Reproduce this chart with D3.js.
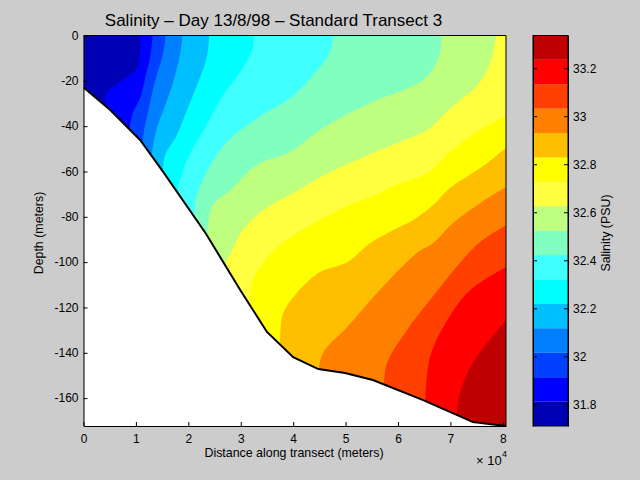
<!DOCTYPE html>
<html>
<head>
<meta charset="utf-8">
<title>Salinity transect</title>
<script src="https://cdn.jsdelivr.net/npm/d3@7"></script>
<style>
  html, body { margin: 0; padding: 0; background: #cccccc; }
  svg { display: block; }
  text { font-family: "Liberation Sans", Arial, sans-serif; fill: #000; }
</style>
</head>
<body>
<div id="chart"></div>
<script>
// Salinity levels between the filled bands (PSU)
const levels = [31.71, 31.812, 31.913, 32.015, 32.117, 32.218, 32.32, 32.422, 32.523,
    32.625, 32.727, 32.829, 32.93, 33.032, 33.133, 33.235, 33.336];
const bandColors = ["#0000b4", "#0000ff", "#0040ff", "#0080ff", "#00bfff", "#00ffff", "#40ffff", "#80ffbf",
    "#bfff80", "#ffff40", "#ffff00", "#ffbf00", "#ff8000", "#ff4000", "#ff0000", "#bf0000"];

// Contour lines: [distance (x 10^4 m), depth (m)]
const contour1 = [[1.09, 0], [1.08, 7.3], [1.02, 14.3], [0.70, 20.5], [0.44, 25.4], [0.41, 31]];
const contour2 = [[1.32, 0], [1.27, 9.9], [1.19, 17.4], [1.08, 27.6], [0.94, 34.2], [0.87, 42]];
const contour3 = [[1.57, 0], [1.51, 8.6], [1.36, 20.5], [1.23, 33.8], [1.15, 42.6], [1.12, 49]];
const contour4 = [[1.89, 0], [1.84, 8.6], [1.71, 20.5], [1.56, 30.7], [1.40, 40.8], [1.32, 49.2], [1.30, 54]];
const contour5 = [[2.40, 0], [2.35, 9.9], [2.19, 20.5], [1.99, 32], [1.78, 43.9], [1.56, 52.7], [1.51, 60]];
const contour6 = [[3.25, 0], [3.23, 5.5], [2.99, 16.1], [2.66, 26.3], [2.35, 39.5], [1.99, 54.1], [1.80, 67]];
const contour7 = [[4.76, 0], [4.70, 7.3], [4.38, 17.4], [3.94, 27.6], [3.31, 36.4], [2.73, 47], [2.35, 60.2],
    [2.16, 70.4], [2.11, 80]];
const contour8 = [[6.84, 0], [6.77, 9.9], [6.48, 19.6], [5.60, 28.5], [4.90, 36.4], [4.51, 41.7], [3.94, 51.4],
    [3.31, 57.1], [2.80, 68.2], [2.47, 74.8], [2.38, 82.3], [2.35, 90]];
const contour9 = [[7.87, 0], [7.79, 9.9], [7.57, 20.5], [7.19, 28.5], [6.96, 32.9], [6.56, 41.7], [6.04, 47],
    [5.52, 51.9], [4.71, 60.2], [4.00, 69.5], [3.43, 77], [3.04, 85.8], [2.83, 94.7], [2.72, 100], [2.70, 106]];
const contour10 = [[8.06, 35.1], [7.51, 42.6], [6.99, 51.4], [6.56, 60.7], [5.85, 66.9], [5.66, 69.5], [4.95, 76.1],
    [4.27, 84.5], [3.75, 92.4], [3.43, 100.4], [3.23, 107.9], [3.18, 114.5], [3.16, 122]];
const contour11 = [[8.06, 49.6], [7.57, 58.5], [6.99, 67.3], [6.67, 74.8], [6.29, 81.4], [5.91, 85.8], [5.47, 91.6],
    [5.03, 100], [4.51, 104.4], [4.07, 113.6], [3.81, 122.5], [3.75, 133], [3.75, 138]];
const contour12 = [[8.06, 66.9], [7.57, 73.9], [7.05, 82.7], [6.67, 91.6], [6.36, 96], [5.60, 113.6], [5.03, 128.6],
    [4.57, 140], [4.48, 149]];
const contour13 = [[8.06, 83.6], [7.62, 90.2], [7.38, 95.1], [6.61, 116.7], [6.17, 130], [5.79, 144.5], [5.73, 155]];
const contour14 = [[8.06, 102.2], [7.38, 112.3], [6.94, 125.6], [6.61, 141.9], [6.52, 162]];
const contour15 = [[8.06, 125.6], [7.70, 135.7], [7.38, 146.3], [7.15, 160.9], [7.13, 170]];
const contours = [contour1, contour2, contour3, contour4, contour5, contour6, contour7, contour8,
    contour9, contour10, contour11, contour12, contour13, contour14, contour15];

// Sea floor along the transect
const bottom = [[0, 22.9], [0.51, 32.9], [1.08, 46.1], [1.52, 60.2], [2.34, 87.6], [2.99, 112.3], [3.50, 130.8],
    [4.00, 141.9], [4.48, 147.2], [4.99, 148.9], [5.52, 152], [6.48, 160.9], [7.43, 170.6], [8.06, 172.3]];

const xTicks = [0, 1, 2, 3, 4, 5, 6, 7, 8];
const depthTicks = [0, 20, 40, 60, 80, 100, 120, 140, 160];
const barTicks = [31.8, 32, 32.2, 32.4, 32.6, 32.8, 33, 33.2];

const width = 640, height = 480;
const plot = { left: 83.5, right: 506, top: 35.5, bottom: 426 };
const bar = { left: 533, right: 568 };
const xMax = 8.06, depthMax = 172.3;

const x = d3.scaleLinear().domain([0, xMax]).range([plot.left, plot.right]);
const y = d3.scaleLinear().domain([0, depthMax]).range([plot.top, plot.bottom]);
const yBar = d3.scaleLinear().domain([levels[0], levels[levels.length - 1]]).range([plot.bottom, plot.top]);

const svg = d3.select("#chart").append("svg")
    .attr("width", width)
    .attr("height", height);

svg.append("defs").append("clipPath").attr("id", "plotClip").append("rect")
    .attr("x", plot.left)
    .attr("y", plot.top)
    .attr("width", plot.right - plot.left)
    .attr("height", plot.bottom - plot.top);

const area = svg.append("g").attr("clip-path", "url(#plotClip)");

const smooth = d3.line().x(d => x(d[0])).y(d => y(d[1])).curve(d3.curveCatmullRom.alpha(0.5));

// Lowest band fills the whole section, each contour paints what lies beyond it
area.append("rect")
    .attr("x", plot.left)
    .attr("y", plot.top)
    .attr("width", plot.right - plot.left)
    .attr("height", plot.bottom - plot.top)
    .attr("fill", bandColors[0]);

area.selectAll(".band")
    .data(contours)
    .join("path")
    .attr("class", "band")
    .attr("fill", (d, i) => bandColors[i + 1])
    .attr("d", d => {
        const last = d[d.length - 1];
        let path = smooth(d);
        path += `L${x(last[0])},${y(depthMax)}`;
        path += `L${x(xMax)},${y(depthMax)}`;
        if (d[0][1] === 0) path += `L${x(xMax)},${y(0)}`;
        return path + "Z";
    });

// White below the sea floor, thick black line on its edge
const floorLine = d3.line().x(d => x(d[0])).y(d => y(d[1]));
area.append("path")
    .attr("fill", "#fff")
    .attr("d", `${floorLine(bottom)}L${x(xMax)},${y(depthMax)}L${x(0)},${y(depthMax)}Z`);
area.append("path")
    .attr("fill", "none")
    .attr("stroke", "#000")
    .attr("stroke-width", 2)
    .attr("d", floorLine(bottom));

// Axes with inward ticks, as the original
function styleAxis(g) {
    g.selectAll("text").attr("font-size", 12);
    g.selectAll("path, line").attr("stroke", "#000");
}

svg.append("g")
    .attr("transform", `translate(0,${plot.bottom})`)
    .call(d3.axisBottom(x).tickValues(xTicks).tickFormat(d3.format("d")).tickSizeInner(-4).tickSizeOuter(0).tickPadding(8))
    .call(styleAxis);

svg.append("g")
    .attr("transform", `translate(${plot.left},0)`)
    .call(d3.axisLeft(y).tickValues(depthTicks).tickFormat(d => d === 0 ? "0" : "-" + d).tickSizeInner(-4).tickSizeOuter(0).tickPadding(5))
    .call(styleAxis);

// Top and right edge of the box
svg.append("path")
    .attr("fill", "none")
    .attr("stroke", "#000")
    .attr("d", `M${plot.left},${plot.top}H${plot.right}V${plot.bottom}`);

// Colour bar
svg.append("g").selectAll("rect")
    .data(bandColors)
    .join("rect")
    .attr("x", bar.left)
    .attr("width", bar.right - bar.left)
    .attr("y", (d, i) => yBar(levels[i + 1]))
    .attr("height", (d, i) => yBar(levels[i]) - yBar(levels[i + 1]))
    .attr("fill", d => d);

svg.append("rect")
    .attr("x", bar.left)
    .attr("y", plot.top)
    .attr("width", bar.right - bar.left)
    .attr("height", plot.bottom - plot.top)
    .attr("fill", "none")
    .attr("stroke", "#000");

svg.append("g")
    .attr("transform", `translate(${bar.right},0)`)
    .call(d3.axisRight(yBar).tickValues(barTicks).tickFormat(d => d3.format("")(d)).tickSizeInner(-4).tickSizeOuter(0).tickPadding(5))
    .call(styleAxis);

svg.append("g")
    .attr("transform", `translate(${bar.left},0)`)
    .call(d3.axisLeft(yBar).tickValues(barTicks).tickFormat("").tickSizeInner(-4).tickSizeOuter(0))
    .call(styleAxis);

// Titles and labels
svg.append("text")
    .attr("x", 273.5)
    .attr("y", 26)
    .attr("text-anchor", "middle")
    .attr("font-size", 17)
    .text("Salinity \u2013 Day 13/8/98 \u2013 Standard Transect 3");

svg.append("text")
    .attr("x", 294)
    .attr("y", 457)
    .attr("text-anchor", "middle")
    .attr("font-size", 12.4)
    .text("Distance along transect (meters)");

svg.append("text")
    .attr("transform", "translate(43,233) rotate(-90)")
    .attr("text-anchor", "middle")
    .attr("font-size", 12.4)
    .text("Depth (meters)");

svg.append("text")
    .attr("transform", "translate(610,233) rotate(-90)")
    .attr("text-anchor", "middle")
    .attr("font-size", 12.4)
    .text("Salinity (PSU)");

svg.append("text")
    .attr("x", 476)
    .attr("y", 465)
    .attr("font-size", 13)
    .text("\u00d7 10");

svg.append("text")
    .attr("x", 502)
    .attr("y", 457)
    .attr("font-size", 9)
    .text("4");
</script>
</body>
</html>
